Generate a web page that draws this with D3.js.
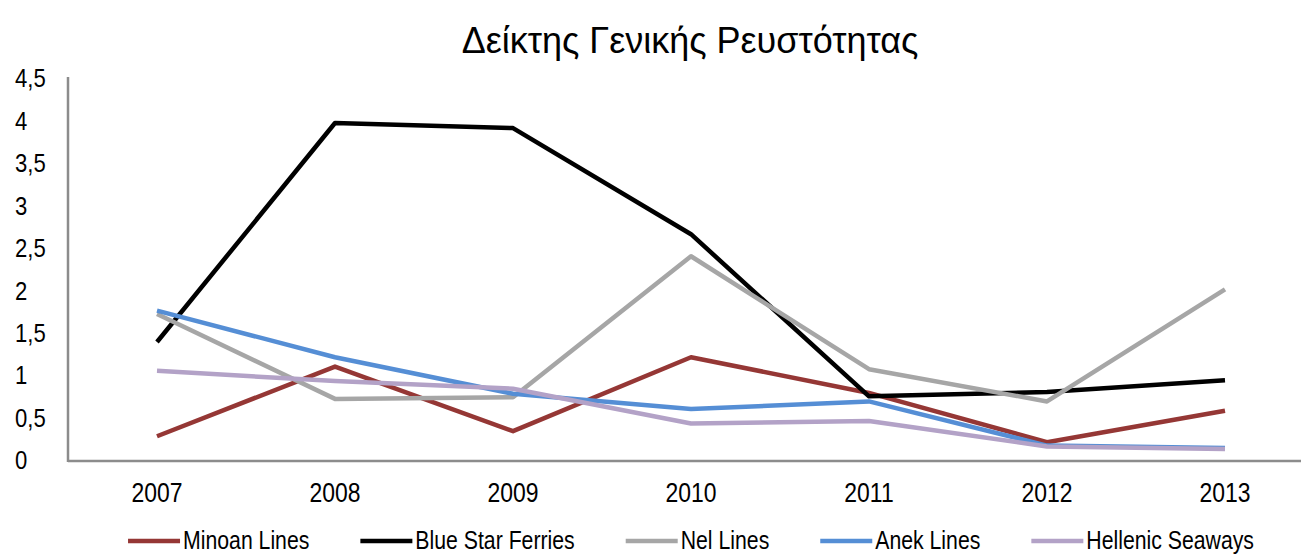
<!DOCTYPE html>
<html>
<head>
<meta charset="utf-8">
<script src="https://cdn.jsdelivr.net/npm/d3@7"></script>
<style>
  body { margin: 0; background: #fff; }
  text { font-family: "Liberation Sans", Arial, sans-serif; fill: #000; }
</style>
</head>
<body>
<div id="chart"></div>
<script>
// data
const years = ["2007", "2008", "2009", "2010", "2011", "2012", "2013"];
const minoan = [0.28, 1.10, 0.34, 1.21, 0.79, 0.21, 0.58];
const blueStar = [1.39, 3.97, 3.91, 2.66, 0.75, 0.80, 0.94];
const nel = [1.72, 0.72, 0.74, 2.40, 1.07, 0.69, 2.01];
const anek = [1.76, 1.21, 0.78, 0.60, 0.69, 0.17, 0.14];
const hellenic = [1.05, 0.93, 0.84, 0.43, 0.46, 0.16, 0.13];
const yTicks = [0, 0.5, 1, 1.5, 2, 2.5, 3, 3.5, 4, 4.5];

const series = [
  { name: "Minoan Lines", values: minoan, color: "#953735" },
  { name: "Blue Star Ferries", values: blueStar, color: "#000000" },
  { name: "Nel Lines", values: nel, color: "#a6a6a6" },
  { name: "Anek Lines", values: anek, color: "#558ed5" },
  { name: "Hellenic Seaways", values: hellenic, color: "#b3a2c7" }
];

const narrow = 0.85; // the original text is drawn tall and narrow

let dimensions = {
  width: 1301,
  height: 554,
  margins: { top: 78, left: 68, bottom: 93, right: -13 }
};
dimensions.containerWidth = dimensions.width - dimensions.margins.left - dimensions.margins.right;
dimensions.containerHeight = dimensions.height - dimensions.margins.top - dimensions.margins.bottom;

const svg = d3.select("#chart")
  .append("svg")
  .attr("width", dimensions.width)
  .attr("height", dimensions.height);

// title
svg.append("text")
  .attr("x", 690)
  .attr("y", 53)
  .attr("text-anchor", "middle")
  .style("font-size", "36px")
  .text("Δείκτης Γενικής Ρευστότητας");

const container = svg.append("g")
  .attr("transform", `translate(${dimensions.margins.left}, ${dimensions.margins.top})`);

const x = d3.scaleBand()
  .domain(years)
  .range([0, dimensions.containerWidth]);

const y = d3.scaleLinear()
  .domain([0, 4.5])
  .range([dimensions.containerHeight - 1, 0]);

// y labels (left aligned like the original)
container.selectAll(".ylab")
  .data(yTicks)
  .join("text")
  .attr("class", "ylab")
  .attr("transform", d => `translate(-53, ${y(d)}) scale(${narrow}, 1)`)
  .attr("dy", "0.36em")
  .style("font-size", "26px")
  .text(d => d3.format(".1~f")(d).replace(".", ","));

// x labels
container.selectAll(".xlab")
  .data(years)
  .join("text")
  .attr("class", "xlab")
  .attr("transform", d => `translate(${x(d) + x.bandwidth() / 2}, ${dimensions.containerHeight + 41}) scale(${narrow}, 1)`)
  .attr("text-anchor", "middle")
  .style("font-size", "27px")
  .text(d => d);

// axis lines
container.append("line")
  .attr("x1", 0).attr("x2", 0)
  .attr("y1", -1).attr("y2", dimensions.containerHeight + 1)
  .attr("stroke", "#8c8c8c").attr("stroke-width", 2.5);
container.append("line")
  .attr("x1", 0).attr("x2", dimensions.containerWidth)
  .attr("y1", dimensions.containerHeight).attr("y2", dimensions.containerHeight)
  .attr("stroke", "#8c8c8c").attr("stroke-width", 2.5);

// lines
const line = d3.line()
  .x((d, i) => x(years[i]) + x.bandwidth() / 2)
  .y(d => y(d));

container.selectAll(".series")
  .data(series)
  .join("path")
  .attr("class", "series")
  .attr("fill", "none")
  .attr("stroke", d => d.color)
  .attr("stroke-width", 4.5)
  .attr("stroke-linejoin", "round")
  .attr("d", d => line(d.values));

// legend
const legend = svg.append("g");
const items = legend.selectAll(".item")
  .data(series)
  .join("g")
  .attr("class", "item");
items.append("line")
  .attr("x1", 0).attr("x2", 52)
  .attr("y1", -8).attr("y2", -8)
  .attr("stroke", d => d.color)
  .attr("stroke-width", 4.5);
items.append("text")
  .attr("transform", `translate(55, 0) scale(${narrow}, 1)`)
  .style("font-size", "25px")
  .text(d => d.name);

const gap = 51;
let pos = 0;
items.each(function() {
  d3.select(this).attr("transform", `translate(${pos}, 0)`);
  pos += this.getBBox().width + gap;
});
const total = pos - gap;
legend.attr("transform", `translate(${691 - total / 2}, 549)`);
</script>
</body>
</html>
